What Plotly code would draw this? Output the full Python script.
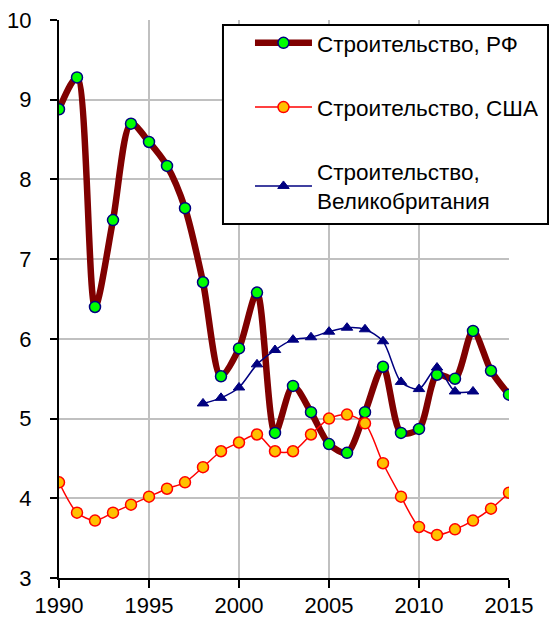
import plotly.graph_objects as go

years = list(range(1990, 2016))
rf = [8.88, 9.28, 6.40, 7.49, 8.70, 8.47, 8.17, 7.64, 6.71, 5.53, 5.88, 6.58,
      4.82, 5.41, 5.08, 4.68, 4.57, 5.08, 5.65, 4.82, 4.87, 5.55, 5.50, 6.10,
      5.60, 5.30]
usa = [4.20, 3.82, 3.72, 3.82, 3.92, 4.02, 4.12, 4.20, 4.39, 4.59, 4.70, 4.80,
       4.59, 4.59, 4.80, 5.00, 5.05, 4.94, 4.44, 4.02, 3.64, 3.54, 3.61, 3.72,
       3.87, 4.07]
uk_years = list(range(1998, 2014))
uk = [5.19, 5.26, 5.39, 5.68, 5.86, 5.99, 6.02, 6.09, 6.14, 6.12, 5.97, 5.46,
      5.37, 5.64, 5.34, 5.34]

names = ["Строительство, РФ", "Строительство, США", "Строительство,<br>Великобритания"]
x_ticks = [1990, 1995, 2000, 2005, 2010, 2015]
y_ticks = [3, 4, 5, 6, 7, 8, 9, 10]

FONT = "Liberation Sans, Arial, sans-serif"

fig = go.Figure()
fig.add_trace(go.Scatter(
    x=years, y=rf, name=names[0], legendgroup="a",
    mode="lines+markers", line=dict(color="#800000", width=6.5, shape="spline", smoothing=0.8),
    marker=dict(symbol="circle", size=11, color="#00FF00", line=dict(color="#000080", width=1.5)),
))
fig.add_trace(go.Scatter(
    x=years, y=usa, name=names[1], legendgroup="b",
    mode="lines+markers", line=dict(color="#FF0000", width=1.5, shape="spline", smoothing=0.8),
    marker=dict(symbol="circle", size=11, color="#FFC000", line=dict(color="#FF0000", width=1.5)),
))
fig.add_trace(go.Scatter(
    x=uk_years, y=uk, name=names[2], legendgroup="c",
    mode="lines+markers", line=dict(color="#000080", width=1.5, shape="spline", smoothing=0.8),
    marker=dict(symbol="triangle-up", size=10, color="#000080", line=dict(color="#000080", width=1)),
))

# legend frame
fig.add_shape(type="rect", xref="paper", yref="paper",
              x0=0.3644, x1=1.0867, y0=0.6344, y1=0.991,
              line=dict(color="black", width=2), fillcolor="white", layer="above")

fig.update_layout(
    width=549, height=611,
    margin=dict(l=51, r=48, t=12, b=41, autoexpand=False),
    paper_bgcolor="white", plot_bgcolor="white",
    font=dict(family=FONT, size=22, color="black"),
    showlegend=True,
    legend=dict(
        x=0.4244, y=0.997, xanchor="left", yanchor="top",
        bgcolor="rgba(0,0,0,0)", borderwidth=0,
        font=dict(family=FONT, size=22.5, color="black"),
        itemwidth=57, tracegroupgap=32, traceorder="grouped",
    ),
)
fig.update_xaxes(
    range=[1990, 2015], tickvals=x_ticks, ticktext=[str(v) for v in x_ticks],
    showgrid=True, gridcolor="#C0C0C0", gridwidth=2,
    showline=True, linecolor="black", linewidth=2,
    ticks="outside", ticklen=8, tickwidth=2, tickcolor="black",
    zeroline=False, tickfont=dict(size=22), ticklabelstandoff=-1,
    ticklabeloverflow="allow",
)
fig.update_yaxes(
    range=[3, 10], tickvals=y_ticks, ticktext=[str(v) for v in y_ticks],
    showgrid=True, gridcolor="#C0C0C0", gridwidth=2,
    showline=True, linecolor="black", linewidth=2,
    ticks="outside", ticklen=7, tickwidth=2, tickcolor="black",
    zeroline=False, tickfont=dict(size=22), ticklabelstandoff=14,
    ticklabeloverflow="allow",
)

fig.write_html("out.html")
